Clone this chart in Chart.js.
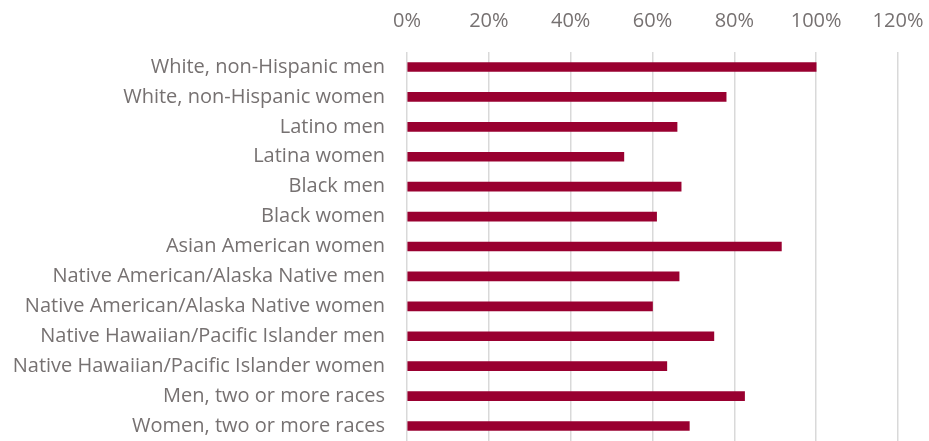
<!DOCTYPE html>
<html>
<head>
<meta charset="utf-8">
<script src="https://cdn.jsdelivr.net/npm/chart.js@4/dist/chart.umd.min.js"></script>
<style>
  html, body { margin: 0; padding: 0; background: #ffffff; overflow: hidden; }
  canvas { display: block; }
</style>
</head>
<body>
<canvas id="chart" width="929" height="441"></canvas>
<script>
// Earnings relative to white, non-Hispanic men (percent)
const groups = [
  'White, non-Hispanic men',
  'White, non-Hispanic women',
  'Latino men',
  'Latina women',
  'Black men',
  'Black women',
  'Asian American women',
  'Native American/Alaska Native men',
  'Native American/Alaska Native women',
  'Native Hawaiian/Pacific Islander men',
  'Native Hawaiian/Pacific Islander women',
  'Men, two or more races',
  'Women, two or more races'
];
const ratio = [100, 78, 66, 53, 67, 61, 91.5, 66.5, 60, 75, 63.5, 82.5, 69];
const axisMax = 120;
const axisStep = 20;

const textGray = '#767171';
const fontFamily = '"Open Sans", "Noto Sans", sans-serif';

new Chart(document.getElementById('chart'), {
  type: 'bar',
  data: {
    labels: groups,
    datasets: [{
      data: ratio,
      backgroundColor: '#990030',
      borderWidth: 0,
      barThickness: 9,
      categoryPercentage: 1,
      barPercentage: 1
    }]
  },
  options: {
    indexAxis: 'y',
    responsive: false,
    animation: false,
    layout: { padding: { left: 0, right: 31, top: 0, bottom: 0 } },
    plugins: {
      legend: { display: false },
      tooltip: { enabled: false }
    },
    scales: {
      x: {
        position: 'top',
        min: 0,
        max: axisMax,
        ticks: {
          stepSize: axisStep,
          color: textGray,
          font: { family: fontFamily, size: 20 },
          padding: 19,
          callback: v => v + '%'
        },
        grid: { color: '#d9d9d9', lineWidth: 1.5, drawTicks: false },
        border: { display: false },
        afterFit: scale => {
          scale.height = 52;
          scale.paddingLeft = 0;
          scale.paddingRight = 0;
        }
      },
      y: {
        ticks: {
          color: textGray,
          font: { family: fontFamily, size: 20 },
          padding: 14
        },
        grid: { display: false },
        border: { display: false },
        afterFit: scale => {
          scale.width = 407;
          scale.paddingTop = 0;
          scale.paddingBottom = 0;
        }
      }
    }
  }
});
</script>
</body>
</html>
